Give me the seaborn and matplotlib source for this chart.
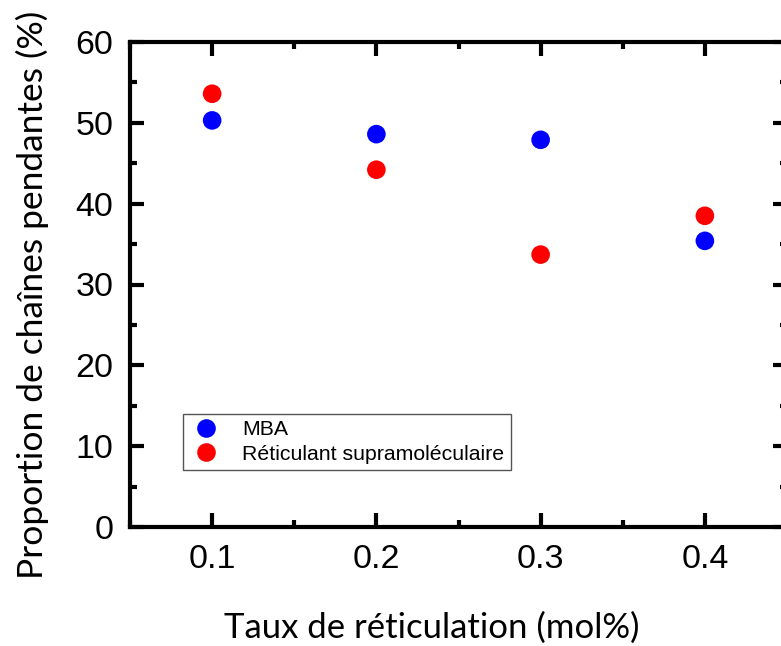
import matplotlib
matplotlib.use("Agg")
import matplotlib.pyplot as plt
import seaborn as sns
import pandas as pd
from matplotlib.ticker import MultipleLocator

taux = [0.1, 0.2, 0.3, 0.4]
mba = [50.3, 48.6, 47.9, 35.4]
supra = [53.6, 44.2, 33.7, 38.5]
series_names = ["MBA", "Réticulant supramoléculaire"]
x_ticks = [0.1, 0.2, 0.3, 0.4]
y_ticks = [0, 10, 20, 30, 40, 50, 60]

df = pd.DataFrame({
    "x": taux + taux,
    "y": mba + supra,
    "serie": [series_names[0]] * len(taux) + [series_names[1]] * len(taux),
})

sns.set_style("ticks")
fig = plt.figure(figsize=(7.81, 6.46), dpi=100)
ax = fig.add_axes([130 / 781, 1 - 527 / 646, 657 / 781, 485 / 646])

sns.scatterplot(data=df, x="x", y="y", hue="serie", hue_order=series_names,
                palette={series_names[0]: "#0000ff", series_names[1]: "#ff0000"},
                s=180, edgecolor="none", ax=ax, legend=True, clip_on=False)

ax.set_xlim(0.05, 0.45)
ax.set_ylim(0, 60)
ax.set_xticks(x_ticks)
ax.set_xticklabels([f"{v:.1f}" for v in x_ticks])
ax.set_yticks(y_ticks)
ax.xaxis.set_minor_locator(MultipleLocator(0.05))
ax.yaxis.set_minor_locator(MultipleLocator(5))

for s in ax.spines.values():
    s.set_visible(True)
    s.set_linewidth(3)
    s.set_color("black")

ax.tick_params(which="major", direction="in", length=10, width=3,
               top=True, right=True, pad=12, labelsize=24.5,
               colors="black", labelcolor="black")
ax.tick_params(which="minor", direction="in", length=5, width=3,
               top=True, right=True, colors="black")
for lab in ax.get_xticklabels() + ax.get_yticklabels():
    lab.set_fontfamily("Liberation Sans")

ax.set_xlabel("Taux de réticulation (mol%)", fontfamily="Lato", fontsize=25, color="black")
ax.set_ylabel("Proportion de chaînes pendantes (%)", fontfamily="Lato", fontsize=25.5, color="black")
ax.xaxis.set_label_coords((432 - 130) / 657, (527 - 628) / 485)
ax.xaxis.label.set_va("center")
ax.yaxis.set_label_coords((32 - 130) / 657, (527 - 295) / 485)
ax.yaxis.label.set_va("center")

leg = ax.legend(loc="lower left", bbox_to_anchor=((183 - 130) / 657, (527 - 470) / 485),
                borderaxespad=0, frameon=True, fancybox=False,
                prop={"family": "Liberation Sans", "size": 15.3},
                handletextpad=0.9, handlelength=1.6, labelspacing=0.25, borderpad=0.3,
                markerscale=1.0, title=None)
leg.get_frame().set_edgecolor("#555555")
leg.get_frame().set_linewidth(1)
leg.get_frame().set_alpha(1)
for t in leg.get_texts():
    t.set_color("black")

fig.savefig("out.png", dpi=100)
